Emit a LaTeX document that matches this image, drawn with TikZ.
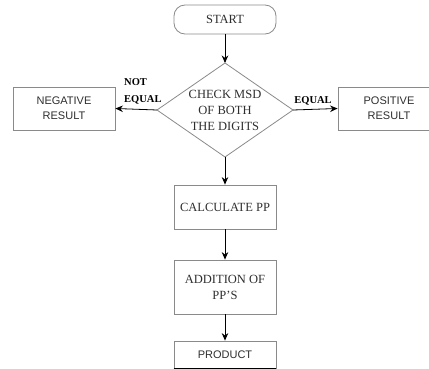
\documentclass[tikz,border=0pt]{standalone}
\usepackage{fontspec}
\setmainfont{Liberation Serif}
\newfontfamily\arialfont{Liberation Sans}
\usetikzlibrary{arrows.meta}
\definecolor{boxline}{HTML}{8A8A8A}
\definecolor{txt}{HTML}{2E2E2E}
\tikzset{
  proc/.style={draw=boxline, line width=0.8pt, rectangle, minimum width=102pt, inner sep=0pt, align=center, text=txt, font=\fontsize{12.5}{16}\selectfont},
  sansbox/.style={proc, font=\arialfont\fontsize{11}{15}\selectfont},
  term/.style={proc, rounded corners=11pt},
  flow/.style={draw=black, line width=0.8pt, -{Stealth[length=7.5pt,width=6.5pt]}},
  lbl/.style={font=\rmfamily\bfseries\fontsize{10.5}{17}\selectfont, text=black, inner sep=0pt}
}
\begin{document}
\begin{tikzpicture}[x=1pt,y=-1pt]
\useasboundingbox (0,0) rectangle (429,369);
% nodes
\node[term, minimum height=29pt] (start) at (225,19.5) {START};
\coordinate (chkT) at (225,63);
\coordinate (chkR) at (293,110);
\coordinate (chkB) at (225,157);
\coordinate (chkL) at (157,110);
\draw[draw=boxline, line width=0.8pt] (chkT) -- (chkR) -- (chkB) -- (chkL) -- cycle;
\node[align=center, text=txt, font=\fontsize{12.5}{16}\selectfont, inner sep=0pt] (chk) at (225,110) {CHECK MSD\\OF BOTH\\THE DIGITS};
\node[sansbox, minimum height=43pt] (neg) at (64,108.5) {NEGATIVE\\RESULT};
\node[sansbox, minimum height=43pt] (pos) at (389,108.5) {POSITIVE\\RESULT};
\node[proc, minimum height=44pt] (calc) at (225,207) {CALCULATE PP};
\node[proc, minimum height=54pt] (add) at (225,287) {ADDITION OF\\PP'S};
\node[sansbox, minimum height=27pt] (prod) at (225,354.5) {PRODUCT};
\draw[line width=1.6pt] (prod.south west) -- (prod.south east);
% connectors
\draw[flow] (start.south) -- (chkT);
\draw[flow] (chkL) -- (neg.east);
\draw[flow] (chkR) -- (pos.west);
\draw[flow] (chkB) -- (calc.north);
\draw[flow] (calc.south) -- (add.north);
\draw[flow] (add.south) -- (prod.north);
% labels
\node[lbl, align=left, anchor=south west] (notlbl) at (124,104) {NOT\\EQUAL};
\node[lbl, anchor=south] (eqlbl) at (313,105) {EQUAL};
\end{tikzpicture}
\end{document}
